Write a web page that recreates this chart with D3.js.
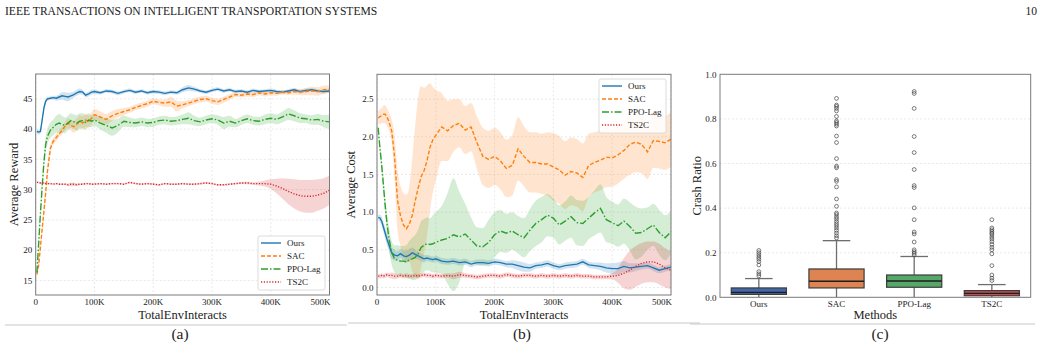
<!DOCTYPE html>
<html>
<head>
<meta charset="utf-8">
<script src="https://cdn.jsdelivr.net/npm/d3@7"></script>
<style>
  body { margin: 0; background: #fff; }
  svg text { font-family: "Liberation Serif", "Times New Roman", serif; fill: #222; }
</style>
</head>
<body>
<svg id="fig" width="1042" height="348"></svg>
<script>
// ---------------- Data ----------------
// training steps (thousands of env interactions)
const xK = [2, 5, 8, 11, 14, 17, 20,
  25, 30, 35, 40, 45, 50, 55, 60, 65, 70, 75, 80, 85, 90, 95, 100,
  110, 120, 130, 140, 150, 160, 170, 180, 190, 200,
  210, 220, 230, 240, 250, 260, 270, 280, 290, 300,
  310, 320, 330, 340, 350, 360, 370, 380, 390, 400,
  410, 420, 430, 440, 450, 460, 470, 480, 490, 500];

const xTicks = [0, 100, 200, 300, 400, 500];
const xTickLabels = ["0", "100K", "200K", "300K", "400K", "500K"];
const methods = ["Ours", "SAC", "PPO-Lag", "TS2C"];

// (a) average reward
const rewardOurs = [39.6, 39.5, 39.6, 41.5, 43.5, 44.6, 45.0,
  45.1, 45.2, 45.1, 45.3, 45.5, 45.4, 45.3, 45.5, 45.7, 46.0, 46.2, 46.1, 45.6, 45.8, 46.1, 46.2,
  46.0, 46.3, 46.2, 45.9, 46.2, 46.4, 46.1, 46.3, 46.0, 46.2,
  46.1, 45.9, 46.1, 46.0, 46.5, 46.8, 46.6, 46.3, 46.1, 46.4,
  46.6, 46.3, 46.5, 46.2, 46.3, 46.1, 46.4, 46.2, 46.3, 46.4,
  46.2, 46.1, 46.3, 46.5, 46.2, 46.4, 46.5, 46.3, 46.2, 46.3];
const rewardOursSd = [0.4, 0.4, 0.4, 0.5, 0.5, 0.4, 0.3,
  0.3, 0.3, 0.4, 0.5, 0.6, 0.7, 0.7, 0.6, 0.5, 0.5, 0.5, 0.4, 0.4, 0.4, 0.4, 0.4,
  0.3, 0.3, 0.3, 0.3, 0.3, 0.3, 0.3, 0.3, 0.3, 0.3,
  0.3, 0.3, 0.3, 0.3, 0.4, 0.5, 0.4, 0.3, 0.3, 0.3,
  0.3, 0.3, 0.3, 0.3, 0.3, 0.3, 0.3, 0.3, 0.3, 0.3,
  0.3, 0.3, 0.3, 0.3, 0.3, 0.3, 0.3, 0.3, 0.3, 0.3];
const rewardSAC = [16.0, 17.5, 20.5, 23.5, 26.5, 29.5, 33.0,
  36.8, 38.0, 38.6, 39.2, 39.8, 40.5, 41.0, 40.6, 40.4, 40.8, 41.3, 41.0, 41.5, 41.2, 41.8, 42.4,
  42.0, 41.6, 42.2, 42.6, 42.9, 43.2, 43.6, 43.9, 44.2, 44.6,
  44.4, 44.3, 44.5, 43.8, 44.0, 44.3, 44.6, 44.9, 45.0, 44.7,
  44.5, 44.9, 45.3, 45.7, 45.6, 45.8, 45.7, 46.0, 45.8, 46.0,
  45.9, 46.1, 46.0, 46.2, 46.1, 46.2, 46.3, 46.2, 46.5, 46.6];
const rewardSACSd = [0.4, 0.5, 0.6, 0.7, 0.8, 0.8, 0.8,
  0.7, 0.6, 0.6, 0.6, 0.6, 0.7, 0.8, 0.9, 1.0, 1.0, 1.0, 1.1, 1.1, 1.0, 1.0, 0.9,
  0.9, 0.9, 0.8, 0.7, 0.6, 0.5, 0.5, 0.5, 0.5, 0.5,
  0.5, 0.6, 0.8, 0.9, 0.6, 0.5, 0.5, 0.5, 0.5, 0.5,
  0.5, 0.5, 0.5, 0.4, 0.4, 0.4, 0.4, 0.4, 0.4, 0.4,
  0.4, 0.4, 0.4, 0.5, 0.5, 0.6, 0.7, 0.7, 0.7, 0.6];
const rewardPPO = [16.3, 21.0, 26.0, 30.5, 34.5, 37.5, 38.8,
  39.8, 40.3, 40.8, 41.0, 40.8, 40.6, 41.0, 41.4, 41.2, 41.0, 41.3, 41.4, 41.1, 41.5, 41.3, 41.5,
  41.0, 40.6, 40.2, 40.6, 41.3, 41.1, 41.0, 41.2, 41.0, 41.1,
  41.4, 41.5, 41.3, 41.4, 41.6, 41.8, 41.4, 41.2, 41.5, 41.7,
  41.5, 41.0, 41.3, 41.0, 41.4, 41.7, 41.4, 41.3, 41.6, 41.8,
  41.6, 42.0, 42.5, 42.2, 41.8, 41.7, 41.5, 41.6, 41.3, 41.2];
const rewardPPOSd = [0.5, 0.6, 0.8, 1.0, 1.2, 1.3, 1.3,
  1.3, 1.3, 1.4, 1.5, 1.4, 1.3, 1.2, 1.2, 1.2, 1.3, 1.3, 1.2, 1.2, 1.1, 1.0, 1.0,
  1.1, 1.2, 1.3, 1.1, 0.9, 0.8, 0.7, 0.7, 0.7, 0.7,
  0.7, 0.7, 0.7, 0.7, 0.8, 1.0, 0.8, 0.7, 0.7, 0.7,
  0.8, 1.0, 0.9, 0.7, 0.7, 0.7, 0.7, 0.7, 0.8, 0.8,
  0.8, 0.9, 1.0, 0.9, 0.8, 0.7, 0.8, 0.9, 1.0, 1.2];
const rewardTS2C = [31.2, 31.2, 31.1, 31.1, 31.1, 31.0, 31.0,
  31.0, 30.9, 31.0, 30.9, 30.9, 30.9, 30.8, 30.9, 30.9, 30.8, 30.9, 30.9, 31.0, 31.0, 30.9, 30.9,
  31.0, 30.9, 31.0, 31.0, 30.9, 31.2, 31.0, 30.9, 31.0, 30.9,
  30.8, 31.0, 30.9, 30.9, 31.0, 30.9, 30.9, 31.0, 31.1, 31.0,
  30.8, 30.8, 30.9, 31.0, 31.1, 31.1, 31.0, 31.0, 31.0, 30.9,
  30.6, 30.2, 29.7, 29.3, 29.0, 28.9, 28.9, 29.1, 29.4, 29.9];
const rewardTS2CSd = [0.15, 0.15, 0.15, 0.15, 0.15, 0.15, 0.15,
  0.15, 0.15, 0.15, 0.15, 0.15, 0.15, 0.2, 0.3, 0.3, 0.2, 0.15, 0.15, 0.15, 0.15, 0.15, 0.15,
  0.15, 0.15, 0.15, 0.15, 0.15, 0.15, 0.15, 0.15, 0.15, 0.15,
  0.15, 0.15, 0.15, 0.15, 0.15, 0.15, 0.15, 0.15, 0.15, 0.15,
  0.15, 0.15, 0.15, 0.15, 0.15, 0.2, 0.2, 0.3, 0.5, 0.8,
  1.2, 1.7, 2.1, 2.4, 2.6, 2.7, 2.7, 2.6, 2.5, 2.4];

// (b) average cost
const costOurs = [0.93, 0.92, 0.88, 0.80, 0.72, 0.64, 0.57,
  0.46, 0.43, 0.42, 0.45, 0.42, 0.41, 0.43, 0.46, 0.44, 0.42, 0.40, 0.38, 0.39, 0.38, 0.37, 0.38,
  0.35, 0.34, 0.35, 0.33, 0.34, 0.31, 0.33, 0.33, 0.32, 0.34,
  0.33, 0.31, 0.31, 0.29, 0.27, 0.26, 0.29, 0.30, 0.32, 0.29,
  0.27, 0.29, 0.30, 0.31, 0.34, 0.30, 0.29, 0.28, 0.26, 0.25,
  0.25, 0.28, 0.26, 0.27, 0.28, 0.29, 0.26, 0.23, 0.25, 0.27];
const costOursSd = [0.04, 0.05, 0.06, 0.07, 0.08, 0.08, 0.08,
  0.08, 0.07, 0.06, 0.06, 0.07, 0.08, 0.08, 0.07, 0.06, 0.05, 0.05, 0.05, 0.04, 0.04, 0.04, 0.04,
  0.04, 0.04, 0.04, 0.04, 0.04, 0.04, 0.04, 0.04, 0.04, 0.04,
  0.04, 0.04, 0.05, 0.06, 0.06, 0.05, 0.04, 0.04, 0.04, 0.04,
  0.04, 0.04, 0.04, 0.04, 0.04, 0.04, 0.04, 0.05, 0.06, 0.07,
  0.08, 0.07, 0.06, 0.05, 0.04, 0.04, 0.04, 0.04, 0.04, 0.04];
const costSAC = [2.25, 2.27, 2.28, 2.30, 2.30, 2.26, 2.21,
  2.08, 1.72, 1.15, 0.95, 0.83, 0.78, 0.84, 0.96, 1.15, 1.32, 1.47, 1.55, 1.68, 1.86, 1.96, 2.02,
  2.13, 2.08, 2.15, 2.18, 2.09, 2.13, 1.92, 1.74, 1.70, 1.74,
  1.68, 1.58, 1.62, 1.84, 1.74, 1.66, 1.66, 1.64, 1.64, 1.60,
  1.56, 1.49, 1.54, 1.52, 1.46, 1.62, 1.66, 1.69, 1.73, 1.72,
  1.76, 1.82, 1.90, 1.93, 1.90, 1.80, 1.95, 1.94, 1.92, 1.97];
const costSACSd = [0.08, 0.1, 0.1, 0.12, 0.12, 0.12, 0.12,
  0.15, 0.3, 0.4, 0.4, 0.42, 0.45, 0.5, 0.75, 1.0, 1.2, 1.2, 1.1, 1.0, 0.85, 0.7, 0.6,
  0.45, 0.4, 0.35, 0.32, 0.32, 0.32, 0.35, 0.38, 0.38, 0.38,
  0.38, 0.38, 0.4, 0.42, 0.4, 0.4, 0.4, 0.4, 0.42, 0.45,
  0.45, 0.45, 0.45, 0.45, 0.45, 0.42, 0.4, 0.4, 0.4, 0.38,
  0.38, 0.38, 0.4, 0.4, 0.38, 0.36, 0.36, 0.36, 0.36, 0.36];
const costPPO = [2.12, 1.85, 1.62, 1.35, 1.08, 0.85, 0.67,
  0.46, 0.38, 0.36, 0.35, 0.35, 0.34, 0.37, 0.38, 0.40, 0.45, 0.53, 0.56, 0.58, 0.57, 0.58, 0.60,
  0.63, 0.65, 0.70, 0.67, 0.71, 0.63, 0.55, 0.54, 0.60, 0.70,
  0.75, 0.72, 0.75, 0.70, 0.66, 0.76, 0.85, 0.90, 0.96, 0.92,
  0.83, 0.88, 0.94, 0.86, 0.85, 0.92, 0.99, 1.05, 0.90, 0.86,
  0.82, 0.88, 0.81, 0.72, 0.73, 0.78, 0.83, 0.73, 0.66, 0.74];
const costPPOSd = [0.05, 0.06, 0.08, 0.1, 0.12, 0.14, 0.15,
  0.16, 0.18, 0.2, 0.2, 0.2, 0.22, 0.25, 0.28, 0.3, 0.32, 0.35, 0.35, 0.35, 0.35, 0.38, 0.4,
  0.45, 0.6, 0.75, 0.6, 0.4, 0.3, 0.25, 0.25, 0.3, 0.3,
  0.28, 0.26, 0.25, 0.25, 0.26, 0.28, 0.3, 0.3, 0.28, 0.26,
  0.26, 0.26, 0.28, 0.3, 0.3, 0.28, 0.3, 0.32, 0.3, 0.28,
  0.28, 0.3, 0.32, 0.35, 0.32, 0.28, 0.28, 0.3, 0.3, 0.28];
const costTS2C = [0.15, 0.15, 0.16, 0.15, 0.16, 0.17, 0.16,
  0.16, 0.15, 0.15, 0.16, 0.15, 0.16, 0.15, 0.15, 0.16, 0.15, 0.16, 0.17, 0.16, 0.16, 0.15, 0.16,
  0.15, 0.16, 0.15, 0.17, 0.16, 0.15, 0.14, 0.15, 0.16, 0.16,
  0.15, 0.17, 0.16, 0.15, 0.16, 0.16, 0.15, 0.16, 0.15, 0.16,
  0.15, 0.16, 0.15, 0.16, 0.15, 0.15, 0.14, 0.14, 0.14, 0.15,
  0.16, 0.19, 0.23, 0.28, 0.32, 0.34, 0.34, 0.31, 0.26, 0.23];
const costTS2CSd = [0.03, 0.03, 0.03, 0.03, 0.03, 0.03, 0.03,
  0.04, 0.04, 0.03, 0.03, 0.03, 0.03, 0.03, 0.03, 0.03, 0.03, 0.03, 0.03, 0.03, 0.03, 0.03, 0.03,
  0.03, 0.03, 0.04, 0.04, 0.03, 0.03, 0.03, 0.03, 0.03, 0.03,
  0.03, 0.03, 0.03, 0.03, 0.03, 0.03, 0.03, 0.03, 0.03, 0.03,
  0.03, 0.03, 0.03, 0.03, 0.03, 0.03, 0.03, 0.03, 0.03, 0.04,
  0.1, 0.2, 0.26, 0.27, 0.27, 0.27, 0.27, 0.27, 0.26, 0.25];

// (c) crash ratio box stats
const crashQ1 = [0.013, 0.042, 0.045, 0.007];
const crashMedian = [0.022, 0.072, 0.073, 0.018];
const crashQ3 = [0.042, 0.127, 0.100, 0.030];
const crashLow = [0, 0, 0, 0];
const crashHigh = [0.084, 0.254, 0.183, 0.057];
const crashOutliers = [
  [0.21, 0.20, 0.19, 0.18, 0.171, 0.16, 0.145, 0.115, 0.105, 0.096],
  [0.892, 0.862, 0.856, 0.847, 0.836, 0.811, 0.791, 0.784, 0.776, 0.768, 0.723, 0.694, 0.622,
   0.588, 0.581, 0.528, 0.52, 0.495, 0.441, 0.408, 0.378, 0.371, 0.36, 0.351, 0.34, 0.33,
   0.321, 0.311, 0.30, 0.288, 0.276, 0.266],
  [0.923, 0.914, 0.847, 0.721, 0.649, 0.573, 0.501, 0.492, 0.401, 0.348, 0.293, 0.284, 0.248,
   0.213, 0.205, 0.198, 0.19],
  [0.348, 0.311, 0.303, 0.295, 0.288, 0.281, 0.27, 0.261, 0.25, 0.237, 0.224, 0.213, 0.195,
   0.142, 0.10, 0.086, 0.075]
];

// ---------------- Styles ----------------
const lineColor = { "Ours": "#1f77b4", "SAC": "#ff7f0e", "PPO-Lag": "#2ca02c", "TS2C": "#d62728" };
const lineDash = { "Ours": null, "SAC": "4,2", "PPO-Lag": "7,2,1.5,2", "TS2C": "1.2,1.6" };
const boxColor = ["#4467a8", "#dd8452", "#55a868", "#c44e52"];

const svg = d3.select("#fig");

// header
svg.append("text").attr("x", 5).attr("y", 15).attr("font-size", 11.6)
  .text("IEEE TRANSACTIONS ON INTELLIGENT TRANSPORTATION SYSTEMS");
svg.append("text").attr("x", 1037).attr("y", 15).attr("font-size", 11.6)
  .attr("text-anchor", "end").text("10");

// caption rules and labels
[[5, 347, 325], [348, 700, 323], [690, 1035, 324]].forEach(([a, b, yy]) => {
  svg.append("line").attr("x1", a).attr("x2", b).attr("y1", yy).attr("y2", yy)
    .attr("stroke", "#c8c8c8").attr("stroke-width", 1);
});
[["(a)", 180], ["(b)", 522], ["(c)", 880]].forEach(([t, cx]) => {
  svg.append("text").attr("x", cx).attr("y", 339).attr("font-size", 15.5)
    .attr("text-anchor", "middle").text(t);
});

// ---------------- Learning curve panels ----------------
function curvePanel(p) {
  const g = svg.append("g");
  const x = d3.scaleLinear().domain([0, 500]).range([p.x0, p.x1]);
  const y = d3.scaleLinear().domain(p.yDomain).range([p.y1, p.y0]);

  const clipId = "clip-" + p.id;
  g.append("clipPath").attr("id", clipId).append("rect")
    .attr("x", p.x0).attr("y", p.y0).attr("width", p.x1 - p.x0).attr("height", p.y1 - p.y0);

  // grid
  g.selectAll(".gx").data(xTicks).join("line")
    .attr("x1", d => x(d)).attr("x2", d => x(d)).attr("y1", p.y0).attr("y2", p.y1)
    .attr("stroke", "#e3e3e3").attr("stroke-dasharray", "2,2").attr("stroke-width", 0.8);
  g.selectAll(".gy").data(p.yTicks).join("line")
    .attr("x1", p.x0).attr("x2", p.x1).attr("y1", d => y(d)).attr("y2", d => y(d))
    .attr("stroke", "#e3e3e3").attr("stroke-dasharray", "2,2").attr("stroke-width", 0.8);

  const plot = g.append("g").attr("clip-path", `url(#${clipId})`);

  // shaded bands first, then lines
  p.series.forEach(s => {
    const area = d3.area()
      .x((d, i) => x(xK[i]))
      .y0((d, i) => y(d - s.sd[i]))
      .y1((d, i) => y(d + s.sd[i]))
      .curve(d3.curveMonotoneX);
    plot.append("path").datum(s.mean).attr("d", area)
      .attr("fill", lineColor[s.name]).attr("fill-opacity", 0.2);
  });
  p.series.forEach(s => {
    const line = d3.line().x((d, i) => x(xK[i])).y(d => y(d)).curve(d3.curveLinear);
    plot.append("path").datum(s.mean).attr("d", line)
      .attr("fill", "none").attr("stroke", lineColor[s.name]).attr("stroke-width", 1.4)
      .attr("stroke-dasharray", lineDash[s.name]);
  });

  // frame
  g.append("rect").attr("x", p.x0).attr("y", p.y0)
    .attr("width", p.x1 - p.x0).attr("height", p.y1 - p.y0)
    .attr("fill", "none").attr("stroke", "#7a7a7a").attr("stroke-width", 1);

  // tick labels
  g.selectAll(".xt").data(xTicks).join("text")
    .attr("x", (d, i) => i === xTicks.length - 1 ? x(d) + 1 : x(d))
    .attr("y", p.y1 + 10).attr("font-size", 9)
    .attr("text-anchor", (d, i) => i === xTicks.length - 1 ? "end" : "middle")
    .text((d, i) => xTickLabels[i]);
  g.selectAll(".yt").data(p.yTicks).join("text")
    .attr("x", p.x0 - 3.5).attr("y", d => y(d) + 3.2).attr("font-size", 9)
    .attr("text-anchor", "end").text(p.yFormat);

  // axis titles
  g.append("text").attr("x", (p.x0 + p.x1) / 2).attr("y", p.y1 + 24)
    .attr("font-size", 12.5).attr("text-anchor", "middle").text("TotalEnvInteracts");
  g.append("text").attr("transform", `translate(${p.yLabelX},${(p.y0 + p.y1) / 2}) rotate(-90)`)
    .attr("font-size", 12.5).attr("text-anchor", "middle").text(p.yLabel);

  // legend
  const L = p.legend;
  const lg = g.append("g").attr("transform", `translate(${L.x},${L.y})`);
  lg.append("rect").attr("width", 67).attr("height", 54).attr("rx", 2)
    .attr("fill", "#fff").attr("fill-opacity", 0.85).attr("stroke", "#dcdcdc");
  methods.forEach((m, i) => {
    const yy = 7 + i * 13;
    lg.append("line").attr("x1", 3).attr("x2", 23).attr("y1", yy).attr("y2", yy)
      .attr("stroke", lineColor[m]).attr("stroke-width", 1.4)
      .attr("stroke-dasharray", lineDash[m]);
    lg.append("text").attr("x", 29).attr("y", yy + 3.2).attr("font-size", 9).text(m);
  });
}

curvePanel({
  id: "a", x0: 35.7, x1: 329.5, y0: 74, y1: 295,
  yDomain: [12.6, 49.1], yTicks: [15, 20, 25, 30, 35, 40, 45], yFormat: d => d,
  yLabel: "Average Reward", yLabelX: 18,
  legend: { x: 258, y: 236 },
  series: [
    { name: "Ours", mean: rewardOurs, sd: rewardOursSd },
    { name: "SAC", mean: rewardSAC, sd: rewardSACSd },
    { name: "PPO-Lag", mean: rewardPPO, sd: rewardPPOSd },
    { name: "TS2C", mean: rewardTS2C, sd: rewardTS2CSd }
  ]
});

curvePanel({
  id: "b", x0: 377, x1: 671, y0: 74.3, y1: 295,
  yDomain: [-0.1, 2.83], yTicks: [0, 0.5, 1.0, 1.5, 2.0, 2.5], yFormat: d => d.toFixed(1),
  yLabel: "Average Cost", yLabelX: 355,
  legend: { x: 599, y: 79 },
  series: [
    { name: "Ours", mean: costOurs, sd: costOursSd },
    { name: "SAC", mean: costSAC, sd: costSACSd },
    { name: "PPO-Lag", mean: costPPO, sd: costPPOSd },
    { name: "TS2C", mean: costTS2C, sd: costTS2CSd }
  ]
});

// ---------------- Box plot panel ----------------
(function boxPanel() {
  const x0 = 720, x1 = 1030.7, y0 = 74.3, y1 = 297.3;
  const g = svg.append("g");
  const x = d3.scaleBand().domain(methods).range([x0, x1]).paddingInner(0.29).paddingOuter(0.145);
  const y = d3.scaleLinear().domain([0, 1.0]).range([y1, y0]);
  const yTicks = [0, 0.2, 0.4, 0.6, 0.8, 1.0];
  const bw = x.bandwidth();

  g.selectAll(".gy").data([0.2, 0.4, 0.6, 0.8]).join("line")
    .attr("x1", x0).attr("x2", x1).attr("y1", d => y(d)).attr("y2", d => y(d))
    .attr("stroke", "#e3e3e3").attr("stroke-dasharray", "2,2").attr("stroke-width", 0.8);

  methods.forEach((m, i) => {
    const cx = x(m) + bw / 2;
    const whisk = "#6e6e6e";
    g.append("line").attr("x1", cx).attr("x2", cx).attr("y1", y(crashQ3[i])).attr("y2", y(crashHigh[i]))
      .attr("stroke", whisk).attr("stroke-width", 1.3);
    g.append("line").attr("x1", cx).attr("x2", cx).attr("y1", y(crashQ1[i])).attr("y2", y(crashLow[i]))
      .attr("stroke", whisk).attr("stroke-width", 1.3);
    g.append("line").attr("x1", cx - bw / 4).attr("x2", cx + bw / 4)
      .attr("y1", y(crashHigh[i])).attr("y2", y(crashHigh[i])).attr("stroke", whisk).attr("stroke-width", 1.3);
    g.append("rect").attr("x", x(m)).attr("width", bw)
      .attr("y", y(crashQ3[i])).attr("height", y(crashQ1[i]) - y(crashQ3[i]))
      .attr("fill", boxColor[i]).attr("stroke", "#3c3c3c").attr("stroke-width", 1.2);
    g.append("line").attr("x1", x(m)).attr("x2", x(m) + bw)
      .attr("y1", y(crashMedian[i])).attr("y2", y(crashMedian[i]))
      .attr("stroke", "#1e1e1e").attr("stroke-width", 1.3);
    g.selectAll(null).data(crashOutliers[i]).join("circle")
      .attr("cx", cx).attr("cy", d => y(d)).attr("r", 1.9)
      .attr("fill", "none").attr("stroke", "#444").attr("stroke-width", 0.7);
  });

  g.append("rect").attr("x", x0).attr("y", y0).attr("width", x1 - x0).attr("height", y1 - y0)
    .attr("fill", "none").attr("stroke", "#7a7a7a").attr("stroke-width", 1);

  g.selectAll(".xt").data(methods).join("text")
    .attr("x", d => x(d) + bw / 2).attr("y", y1 + 10).attr("font-size", 9)
    .attr("text-anchor", "middle").text(d => d);
  g.selectAll(".yt").data(yTicks).join("text")
    .attr("x", x0 - 3.5).attr("y", d => y(d) + 3.2).attr("font-size", 9)
    .attr("text-anchor", "end").text(d => d.toFixed(1));

  g.append("text").attr("x", (x0 + x1) / 2).attr("y", y1 + 22)
    .attr("font-size", 12.5).attr("text-anchor", "middle").text("Methods");
  g.append("text").attr("transform", `translate(701,${(y0 + y1) / 2}) rotate(-90)`)
    .attr("font-size", 12.5).attr("text-anchor", "middle").text("Crash Ratio");
})();
</script>
</body>
</html>
